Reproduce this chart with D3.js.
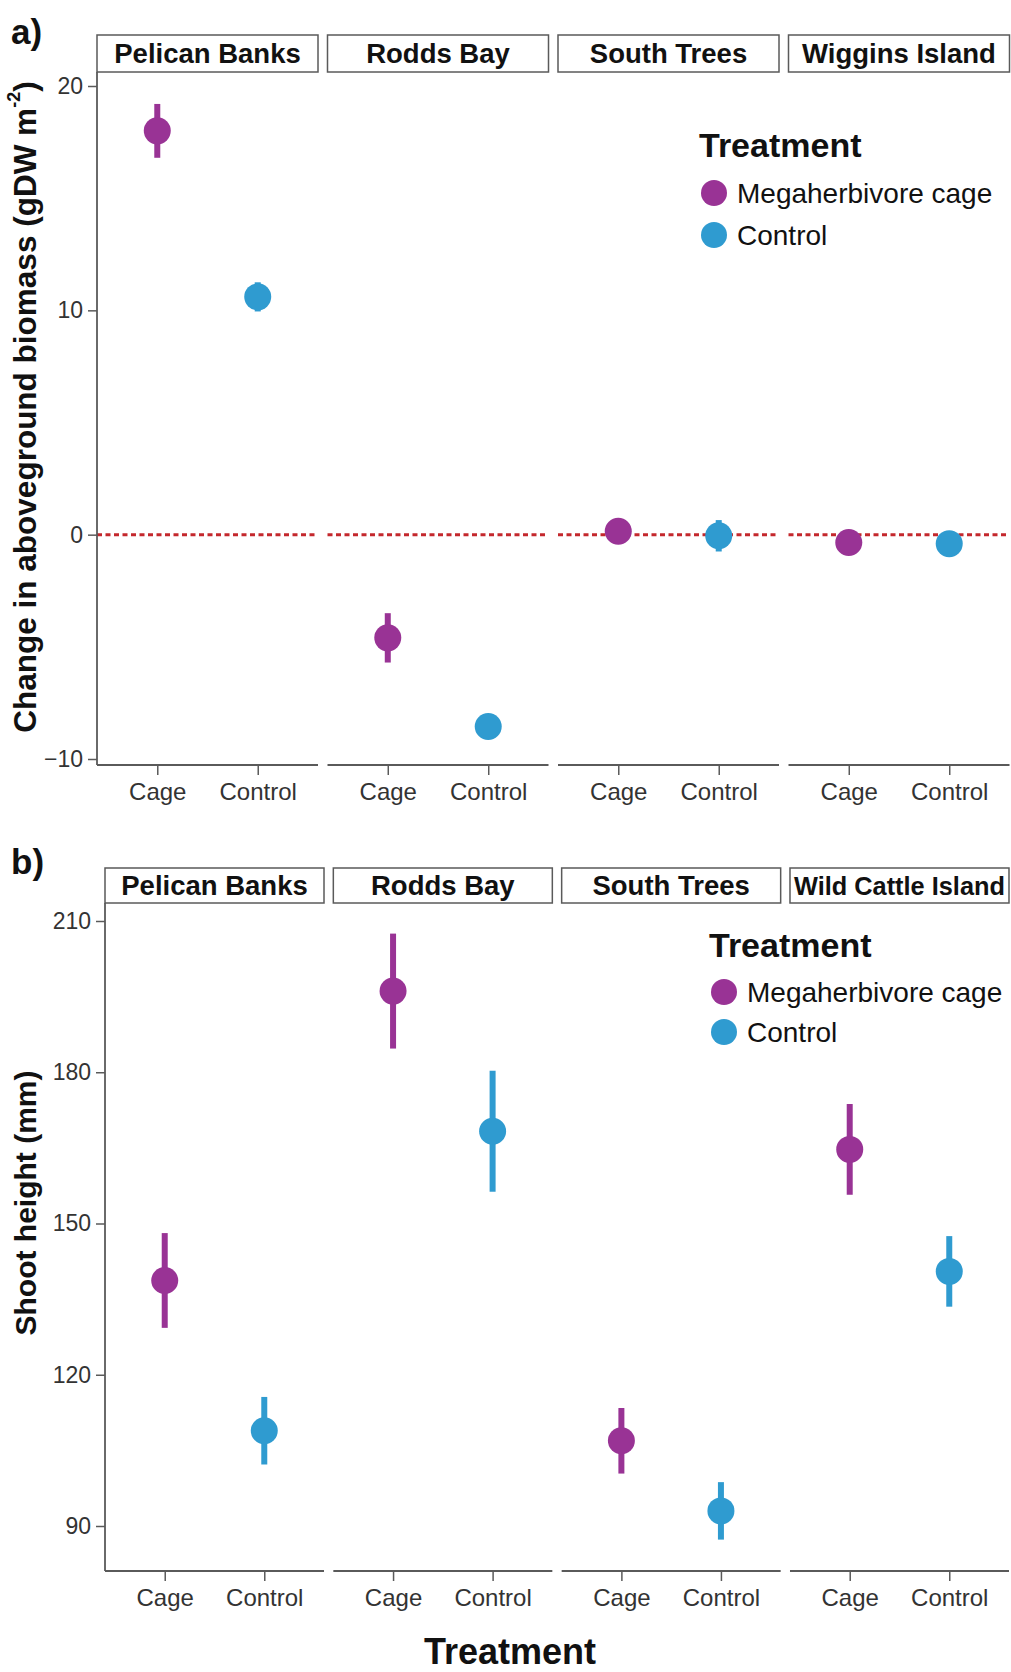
<!DOCTYPE html>
<html>
<head>
<meta charset="utf-8">
<script src="https://cdn.jsdelivr.net/npm/d3@7"></script>
<style>
  html, body { margin: 0; padding: 0; background: #fff; }
  svg { display: block; font-family: "Liberation Sans", Arial, Helvetica, sans-serif; }
</style>
</head>
<body>
<svg id="chart" width="1011" height="1672"></svg>
<script>
// ---------- data ----------
const treatments = ["Cage", "Control"];
const legendLabels = ["Megaherbivore cage", "Control"];

const sitesA = ["Pelican Banks", "Rodds Bay", "South Trees", "Wiggins Island"];
// change in aboveground biomass (gDW m-2): [Cage, Control] per site
const biomassMean = [[18.0, 10.6], [-4.6, -8.55], [0.15, -0.05], [-0.35, -0.4]];
const biomassErr  = [[1.2, 0.65], [1.1, 0.35], [0.3, 0.7], [0.3, 0.3]];
const ticksA = [-10, 0, 10, 20];

const sitesB = ["Pelican Banks", "Rodds Bay", "South Trees", "Wild Cattle Island"];
// shoot height (mm): [Cage, Control] per site
const heightMean = [[138.7, 108.9], [196.1, 168.3], [106.9, 93.0], [164.7, 140.5]];
const heightErr  = [[9.4, 6.7], [11.4, 12.0], [6.5, 5.7], [9.0, 7.0]];
const ticksB = [90, 120, 150, 180, 210];

// ---------- style ----------
const colors = d3.scaleOrdinal().domain(treatments).range(["#993395", "#2f9bd0"]);
const axisColor = "#5a5a5a";
const textColor = "#333";

const svg = d3.select("#chart");

function drawPanelSet(cfg) {
  const g = svg.append("g");
  const y = d3.scaleLinear().domain(cfg.yDomain).range(cfg.yRange);

  cfg.sites.forEach((site, i) => {
    const x0 = cfg.left + i * (cfg.pw + cfg.gap);
    const x = d3.scalePoint().domain(treatments).range([x0, x0 + cfg.pw]).padding(0.6);

    // strip
    g.append("rect")
      .attr("x", x0).attr("y", cfg.stripTop)
      .attr("width", cfg.pw).attr("height", cfg.stripBot - cfg.stripTop)
      .attr("fill", "#fff").attr("stroke", axisColor).attr("stroke-width", 1.5);
    const st = g.append("text")
      .attr("x", x0 + cfg.pw / 2)
      .attr("y", (cfg.stripTop + cfg.stripBot) / 2 + 9.5)
      .attr("text-anchor", "middle")
      .attr("font-weight", "bold")
      .attr("font-size", 27.5)
      .attr("fill", "#111")
      .text(site);
    const tl = st.node().getComputedTextLength();
    if (tl > cfg.pw - 8) st.attr("font-size", 27.5 * (cfg.pw - 8) / tl);

    // bottom axis
    const ax = g.append("g")
      .attr("transform", `translate(0,${cfg.plotBot})`)
      .call(d3.axisBottom(x).tickSize(10).tickSizeOuter(0).tickPadding(8));
    ax.select(".domain").attr("stroke", axisColor).attr("stroke-width", 1.8)
      .attr("d", `M${x0},0H${x0 + cfg.pw}`);
    ax.selectAll(".tick line").attr("stroke", axisColor).attr("stroke-width", 1.5);
    ax.selectAll(".tick text").attr("font-size", 24).attr("fill", textColor)
      .attr("font-family", "Liberation Sans, Arial, sans-serif");

    // zero reference line
    if (cfg.zeroLine) {
      g.append("line")
        .attr("x1", x0).attr("x2", x0 + cfg.pw)
        .attr("y1", y(0)).attr("y2", y(0))
        .attr("stroke", "#c4282d").attr("stroke-width", 3)
        .attr("stroke-dasharray", "5,3.5");
    }

    // error bars + points
    treatments.forEach((t, j) => {
      const m = cfg.mean[i][j], e = cfg.err[i][j];
      g.append("line")
        .attr("x1", x(t)).attr("x2", x(t))
        .attr("y1", y(m - e)).attr("y2", y(m + e))
        .attr("stroke", colors(t)).attr("stroke-width", 6);
      g.append("circle")
        .attr("cx", x(t)).attr("cy", y(m)).attr("r", 13.5)
        .attr("fill", colors(t));
    });
  });

  // left axis
  const ay = g.append("g")
    .attr("transform", `translate(${cfg.left},0)`)
    .call(d3.axisLeft(y).tickValues(cfg.ticks).tickSize(9).tickSizeOuter(0).tickPadding(5)
      .tickFormat(d => d < 0 ? "\u2212" + Math.abs(d) : d));
  ay.select(".domain").attr("stroke", axisColor).attr("stroke-width", 1.8)
    .attr("d", `M0,${cfg.stripBot}V${cfg.plotBot}`);
  ay.selectAll(".tick line").attr("stroke", axisColor).attr("stroke-width", 1.5);
  ay.selectAll(".tick text").attr("font-size", 23).attr("fill", textColor)
    .attr("font-family", "Liberation Sans, Arial, sans-serif");

  // y title
  const yt = g.append("text")
    .attr("transform", `translate(${cfg.yTitleX},${cfg.yTitleY}) rotate(-90)`)
    .attr("text-anchor", "middle")
    .attr("dominant-baseline", "central")
    .attr("font-weight", "bold")
    .attr("font-size", cfg.yTitleSize)
    .attr("fill", "#111");
  cfg.yTitle(yt);

  // panel letter
  g.append("text")
    .attr("x", cfg.letterX).attr("y", cfg.letterY)
    .attr("font-weight", "bold").attr("font-size", 35).attr("fill", "#111")
    .text(cfg.letter);

  // legend
  g.append("text")
    .attr("x", cfg.legX).attr("y", cfg.legY)
    .attr("font-weight", "bold").attr("font-size", 34).attr("fill", "#111")
    .text("Treatment");
  treatments.forEach((t, j) => {
    const cy = cfg.legY + cfg.legFirst + j * cfg.legStep;
    g.append("circle").attr("cx", cfg.legX + 15).attr("cy", cy).attr("r", 13).attr("fill", colors(t));
    g.append("text").attr("x", cfg.legX + 38).attr("y", cy + 9.5)
      .attr("font-size", 28).attr("fill", "#111").text(legendLabels[j]);
  });
}

drawPanelSet({
  sites: sitesA, mean: biomassMean, err: biomassErr, ticks: ticksA,
  left: 97, pw: 221, gap: 9.5,
  stripTop: 35, stripBot: 72, plotBot: 765,
  yDomain: [-10, 20], yRange: [759, 86],
  zeroLine: true,
  yTitleX: 25, yTitleY: 407, yTitleSize: 31.5,
  yTitle: t => {
    t.append("tspan").text("Change in aboveground biomass (gDW m");
    t.append("tspan").attr("font-size", 18).attr("dy", -11).text("-2");
    t.append("tspan").attr("dy", 11).text(")");
  },
  letter: "a)", letterX: 11, letterY: 44,
  legX: 699, legY: 157, legFirst: 36, legStep: 42
});

drawPanelSet({
  sites: sitesB, mean: heightMean, err: heightErr, ticks: ticksB,
  left: 105, pw: 219, gap: 9.33,
  stripTop: 868, stripBot: 903, plotBot: 1571,
  yDomain: [90, 210], yRange: [1526, 921],
  zeroLine: false,
  yTitleX: 25, yTitleY: 1203, yTitleSize: 30,
  yTitle: t => t.text("Shoot height (mm)"),
  letter: "b)", letterX: 11, letterY: 874,
  legX: 709, legY: 957, legFirst: 35, legStep: 40
});

// x title
svg.append("text")
  .attr("x", 510).attr("y", 1664)
  .attr("text-anchor", "middle")
  .attr("font-weight", "bold").attr("font-size", 36).attr("fill", "#111")
  .text("Treatment");
</script>
</body>
</html>
